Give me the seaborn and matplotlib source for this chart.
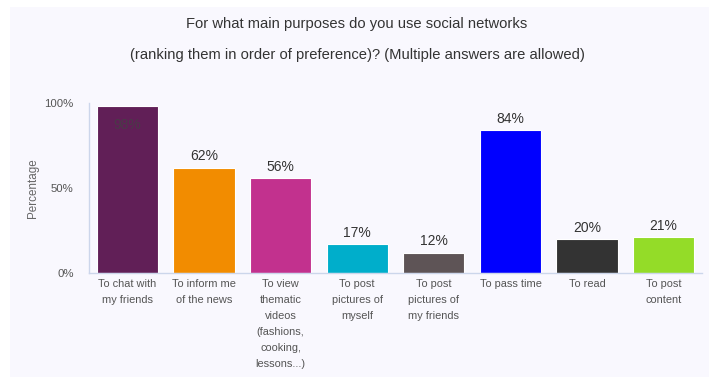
import matplotlib
matplotlib.use("Agg")
import matplotlib.pyplot as plt
import seaborn as sns
import pandas as pd
from matplotlib.patches import Rectangle

categories = [
    "To chat with\nmy friends",
    "To inform me\nof the news",
    "To view\nthematic\nvideos\n(fashions,\ncooking,\nlessons...)",
    "To post\npictures of\nmyself",
    "To post\npictures of\nmy friends",
    "To pass time",
    "To read",
    "To post\ncontent",
]
values = [98, 62, 56, 17, 12, 84, 20, 21]
colors = ["#611f57", "#f28c00", "#c2318e", "#00aecb",
          "#5e5456", "#0000ff", "#333333", "#94dc28"]
y_ticks = [0, 50, 100]
y_tick_labels = ["0%", "50%", "100%"]
title_lines = ["For what main purposes do you use social networks",
               "(ranking them in order of preference)? (Multiple answers are allowed)"]

sns.set_theme(style="white")
plt.rcParams["font.family"] = ["Liberation Sans", "DejaVu Sans"]

BG = "#f9f8fe"
AXIS = "#ccd6eb"

df = pd.DataFrame({"purpose": categories, "share": values})

fig = plt.figure(figsize=(7.09, 3.77), dpi=100, facecolor="white")
fig.patches.append(Rectangle((10 / 709, 0), 1 - 10 / 709, 1 - 7 / 377,
                             transform=fig.transFigure, facecolor=BG,
                             edgecolor="none", zorder=-10))
ax = fig.add_axes([89 / 709, 1 - 273 / 377, (702 - 89) / 709, 170 / 377])
ax.set_facecolor(BG)

sns.barplot(data=df, x="purpose", y="share", hue="purpose",
            palette=colors, legend=False, width=0.8, ax=ax,
            edgecolor="white", linewidth=0.8, saturation=1)

ax.set_ylim(0, 100)
ax.set_xlim(-0.5, len(categories) - 0.5)

# value labels: above the bar, or tucked inside when near the top
for i, v in enumerate(values):
    if v > 92:
        ax.annotate(f"{v}%", (i, v), xytext=(0, -8), textcoords="offset points",
                    ha="center", va="top", fontsize=10, color="#4a3a48")
    else:
        ax.annotate(f"{v}%", (i, v), xytext=(0, 3), textcoords="offset points",
                    ha="center", va="bottom", fontsize=10, color="#333333")

ax.set_yticks(y_ticks)
ax.set_yticklabels(y_tick_labels)
ax.set_xticks(range(len(categories)))
ax.set_xticklabels(categories, fontsize=7.9, color="#555555", linespacing=1.75,
                   va="top")
ax.set_xticks([i - 0.5 for i in range(len(categories) + 1)], minor=True)
ax.tick_params(axis="x", which="major", length=0, pad=4)
ax.tick_params(axis="x", which="minor", length=7, color=AXIS, width=1)
ax.tick_params(axis="y", length=10, color=AXIS, width=1, labelsize=8.2,
               labelcolor="#555555", pad=1)

for side in ["top", "right"]:
    ax.spines[side].set_visible(False)
for side in ["left", "bottom"]:
    ax.spines[side].set_color(AXIS)
    ax.spines[side].set_linewidth(1)

ax.set_xlabel("")
ax.set_ylabel("Percentage", fontsize=8.4, color="#666666", labelpad=4)

for line, ypx in zip(title_lines, [24, 55]):
    fig.text(357 / 709, 1 - ypx / 377, line, ha="center", va="center",
             fontsize=10.6, color="#333333")

fig.savefig("out.png", dpi=100, facecolor="white")
